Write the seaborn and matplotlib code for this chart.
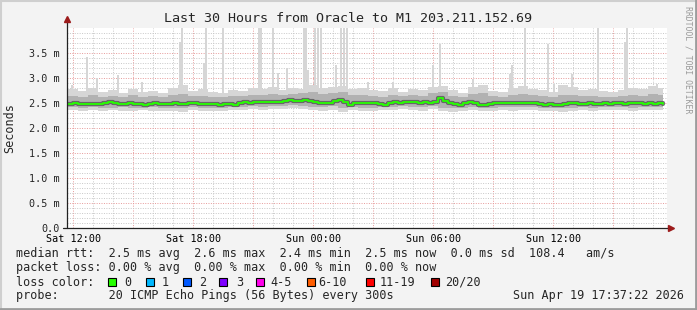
import numpy as np
import pandas as pd
import matplotlib
matplotlib.use("Agg")
import matplotlib.pyplot as plt
import seaborn as sns
from matplotlib.lines import Line2D
from matplotlib.patches import Rectangle

# ---------------- data (hours since Sat 00:00, values in ms) ----------------
x_start, x_end = 11.685, 41.685
median_first, median_step = 11.75, 0.25
median_ms = [
    2.48, 2.49, 2.47, 2.48, 2.47, 2.48, 2.47, 2.50, 2.53, 2.49,
    2.48, 2.47, 2.49, 2.48, 2.48, 2.46, 2.48, 2.49, 2.48, 2.47,
    2.48, 2.49, 2.48, 2.48, 2.49, 2.50, 2.48, 2.47, 2.47, 2.48,
    2.46, 2.48, 2.47, 2.46, 2.49, 2.52, 2.51, 2.52, 2.53, 2.52,
    2.53, 2.52, 2.53, 2.54, 2.56, 2.55, 2.54, 2.56, 2.55, 2.52,
    2.49, 2.49, 2.51, 2.54, 2.57, 2.53, 2.46, 2.50, 2.51, 2.49,
    2.49, 2.50, 2.47, 2.45, 2.49, 2.52, 2.51, 2.52, 2.53, 2.52,
    2.51, 2.52, 2.51, 2.52, 2.60, 2.55, 2.50, 2.47, 2.46, 2.50,
    2.52, 2.50, 2.46, 2.45, 2.47, 2.50, 2.50, 2.49, 2.50, 2.51,
    2.49, 2.50, 2.50, 2.49, 2.47, 2.46, 2.47, 2.46, 2.46, 2.48,
    2.49, 2.49, 2.47, 2.48, 2.49, 2.48, 2.48, 2.49, 2.47, 2.49,
    2.50, 2.48, 2.50, 2.51, 2.49, 2.48, 2.49, 2.47, 2.49, 2.48,
]
smoke_first, smoke_step = 11.75, 0.5
smoke_hi_outer = [
    2.78, 2.74, 2.80, 2.72, 2.76, 2.70, 2.78, 2.72, 2.74, 2.70,
    2.80, 2.86, 2.74, 2.78, 2.72, 2.70, 2.76, 2.74, 2.80, 2.78,
    2.82, 2.76, 2.80, 2.78, 2.86, 2.80, 2.82, 2.84, 2.78, 2.80,
    2.76, 2.74, 2.80, 2.72, 2.78, 2.76, 2.82, 2.84, 2.76, 2.70,
    2.82, 2.86, 2.74, 2.72, 2.80, 2.84, 2.78, 2.76, 2.72, 2.86,
    2.82, 2.76, 2.78, 2.74, 2.72, 2.76, 2.80, 2.78, 2.84, 2.80,
]
smoke_hi_mid = [
    2.64, 2.62, 2.66, 2.63, 2.65, 2.62, 2.66, 2.63, 2.64, 2.62,
    2.66, 2.68, 2.64, 2.65, 2.62, 2.63, 2.65, 2.64, 2.67, 2.66,
    2.68, 2.66, 2.68, 2.70, 2.72, 2.68, 2.70, 2.72, 2.66, 2.67,
    2.64, 2.63, 2.66, 2.64, 2.66, 2.65, 2.70, 2.72, 2.65, 2.62,
    2.68, 2.70, 2.64, 2.62, 2.66, 2.68, 2.66, 2.64, 2.62, 2.66,
    2.66, 2.64, 2.65, 2.63, 2.62, 2.64, 2.66, 2.65, 2.68, 2.66,
]
smoke_lo_mid = [
    2.42, 2.41, 2.42, 2.40, 2.41, 2.42, 2.40, 2.41, 2.42, 2.40,
    2.41, 2.40, 2.42, 2.41, 2.40, 2.41, 2.42, 2.43, 2.44, 2.43,
    2.44, 2.45, 2.46, 2.45, 2.43, 2.42, 2.44, 2.40, 2.42, 2.41,
    2.40, 2.42, 2.43, 2.44, 2.43, 2.42, 2.45, 2.41, 2.40, 2.41,
    2.42, 2.40, 2.41, 2.42, 2.42, 2.43, 2.42, 2.41, 2.40, 2.40,
    2.41, 2.42, 2.41, 2.42, 2.43, 2.42, 2.41, 2.42, 2.43, 2.42,
]
smoke_lo_outer = [
    2.36, 2.35, 2.37, 2.34, 2.36, 2.35, 2.34, 2.36, 2.35, 2.34,
    2.35, 2.33, 2.36, 2.35, 2.34, 2.35, 2.36, 2.37, 2.38, 2.37,
    2.38, 2.39, 2.40, 2.38, 2.36, 2.35, 2.37, 2.32, 2.36, 2.35,
    2.34, 2.36, 2.37, 2.38, 2.36, 2.35, 2.38, 2.34, 2.33, 2.35,
    2.36, 2.34, 2.35, 2.36, 2.35, 2.37, 2.36, 2.35, 2.34, 2.33,
    2.35, 2.36, 2.35, 2.36, 2.37, 2.36, 2.35, 2.36, 2.37, 2.36,
]
spike_hours = [11.94, 12.69, 13.19, 14.24, 15.44, 17.34, 17.44, 18.54, 18.64,
               19.49, 21.29, 21.39, 21.99, 22.24, 22.69, 23.54, 23.64, 23.74,
               24.09, 24.24, 24.39, 25.14, 25.39, 25.54, 25.69, 26.74, 27.99,
               29.99, 30.34, 31.99, 33.84, 33.94, 34.59, 35.74, 36.04, 36.94,
               38.24, 39.59, 39.69, 41.19]
spike_tops = [2.86, 3.42, 3.00, 3.06, 2.92, 3.72, 4.00, 3.30, 4.00,
              4.00, 4.00, 4.00, 4.00, 3.10, 3.20, 4.00, 4.00, 3.16,
              4.00, 4.00, 4.00, 3.26, 4.00, 4.00, 4.00, 2.92, 2.92,
              3.26, 3.68, 2.98, 3.08, 3.26, 4.00, 3.68, 2.88, 3.08,
              4.00, 3.72, 4.00, 2.88]

xtick_hours = [12, 18, 24, 30, 36]
xtick_labels = ["Sat 12:00", "Sat 18:00", "Sun 00:00", "Sun 06:00", "Sun 12:00"]
ytick_vals = [0.0, 0.5, 1.0, 1.5, 2.0, 2.5, 3.0, 3.5]
ytick_labels = ["0.0", "0.5 m", "1.0 m", "1.5 m", "2.0 m", "2.5 m", "3.0 m", "3.5 m"]

title = "Last 30 Hours from Oracle to M1 203.211.152.69"
legend_rtt = "median rtt:  2.5 ms avg  2.6 ms max  2.4 ms min  2.5 ms now  0.0 ms sd  108.4   am/s"
legend_loss = "packet loss: 0.00 % avg  0.00 % max  0.00 % min  0.00 % now"
loss_labels = ["0", "1", "2", "3", "4-5", "6-10", "11-19", "20/20"]
loss_colors = ["#26ff00", "#00b8ff", "#0059ff", "#7e00ff", "#ff00ea", "#ff5e00", "#ff0000", "#a10000"]
probe_text = "probe:       20 ICMP Echo Pings (56 Bytes) every 300s"
date_text = "Sun Apr 19 17:37:22 2026"

# ---------------- styling ----------------
sns.set_style("white")
plt.rcParams["font.family"] = ["DejaVu Sans Mono"]
W, H = 697, 310
fig = plt.figure(figsize=(W / 100, H / 100), dpi=100, facecolor="#f3f3f3")


def fx(x):
    return x / W


def fy(y):
    return 1 - y / H


ax = fig.add_axes([fx(67), fy(228), 600 / W, 200 / H])
ax.set_facecolor("white")

med_df = pd.DataFrame({
    "hour": median_first + median_step * np.arange(len(median_ms)),
    "rtt": median_ms,
})
n_s = len(smoke_hi_outer)
smoke_x = np.append(smoke_first + smoke_step * np.arange(n_s), med_df["hour"].iloc[-1])


def ext(v):
    return np.append(v, v[-1])


# spikes (light smoke reaching high)
ax.bar(spike_hours, np.array(spike_tops) - 2.5, bottom=2.5, width=0.1,
       color="#d6d6d6", align="center", zorder=1, linewidth=0)
ax.fill_between(smoke_x, ext(smoke_lo_outer), ext(smoke_hi_outer), step="post",
                color="#d6d6d6", lw=0, zorder=2)
ax.fill_between(smoke_x, ext(smoke_lo_mid), ext(smoke_hi_mid), step="post",
                color="#b2b2b2", lw=0, zorder=3)
sns.lineplot(data=med_df, x="hour", y="rtt", ax=ax, color="#5a5a5a", lw=3.0,
             alpha=0.85, drawstyle="steps-post", zorder=4, estimator=None)
sns.lineplot(data=med_df, x="hour", y="rtt", ax=ax, color="#26ff00", lw=1.3,
             drawstyle="steps-post", zorder=5, estimator=None)

ax.set_xlim(x_start, x_end)
ax.set_ylim(0, 4.0)

# grid
grid_ls = (0, (1, 1.5))
for h in range(13, 42):
    if h % 3:
        ax.axvline(h, color="#c8c8c8", lw=0.7, ls=grid_ls, zorder=0)
for h in range(12, 42, 3):
    ax.axvline(h, color="#e79a9a", lw=0.7, ls=grid_ls, zorder=0)
for k in range(1, 41):
    if k % 5:
        ax.axhline(k / 10, color="#c8c8c8", lw=0.7, ls=grid_ls, zorder=0)
for v in ytick_vals[1:]:
    ax.axhline(v, color="#e79a9a", lw=0.7, ls=grid_ls, zorder=0)

major_x = list(range(12, 42, 3))
major_lab = [xtick_labels[xtick_hours.index(h)] if h in xtick_hours else "" for h in major_x]
ax.set_xticks(major_x, major_lab)
ax.set_yticks(ytick_vals, ytick_labels)
ax.tick_params(axis="x", length=2.5, width=0.8, pad=2, labelsize=7.3, colors="black")
ax.tick_params(axis="y", length=0, pad=5, labelsize=7.3)
ax.set_xlabel("")
ax.set_ylabel("")
for s in ax.spines.values():
    s.set_visible(False)

# axis lines with arrows
arrow_c = "#9c1b1b"
fig.add_artist(Line2D([fx(67), fx(67)], [fy(228), fy(21)], color="#222222", lw=0.9))
fig.add_artist(Line2D([fx(63), fx(669)], [fy(228), fy(228)], color="#222222", lw=0.9))
fig.add_artist(Line2D([fx(67)], [fy(19)], marker="^", ms=5, color=arrow_c, lw=0))
fig.add_artist(Line2D([fx(671)], [fy(228)], marker=">", ms=5, color=arrow_c, lw=0))

# frame
fig.add_artist(Line2D([fx(0.5), fx(696)], [fy(0.5), fy(0.5)], color="#cfcfcf", lw=1.5))
fig.add_artist(Line2D([fx(0.5), fx(0.5)], [fy(0.5), fy(309)], color="#cfcfcf", lw=1.5))
fig.add_artist(Line2D([fx(696), fx(696)], [fy(0), fy(310)], color="#9c9c9c", lw=2))
fig.add_artist(Line2D([fx(0), fx(697)], [fy(309), fy(309)], color="#9c9c9c", lw=2))

# texts
fig.text(fx(348.5), fy(18), title, ha="center", va="center", fontsize=9.6)
fig.text(fx(10), fy(128), "Seconds", rotation=90, ha="center", va="center", fontsize=8.5)
fig.text(fx(688), fy(60), "RRDTOOL / TOBI OETIKER", rotation=-90, ha="center",
         va="center", fontsize=5.9, color="#9a9a9a")

fig.text(fx(16), fy(254), legend_rtt, ha="left", va="center", fontsize=8.5)
fig.text(fx(16), fy(268), legend_loss, ha="left", va="center", fontsize=8.5)
fig.text(fx(16), fy(282), "loss color:", ha="left", va="center", fontsize=8.5)
box_x = [108, 146, 183, 219, 256, 307, 366, 431]
lab_x = [124, 162, 199, 236, 270, 318, 380, 445]
for bx, lx, lab, col in zip(box_x, lab_x, loss_labels, loss_colors):
    fig.add_artist(Rectangle((fx(bx), fy(286)), 8 / W, 8 / H, facecolor=col,
                             edgecolor="black", lw=0.8, transform=fig.transFigure))
    fig.text(fx(lx), fy(282), lab, ha="left", va="center", fontsize=8.5)
fig.text(fx(16), fy(296), probe_text, ha="left", va="center", fontsize=8.5)
fig.text(fx(513), fy(296), date_text, ha="left", va="center", fontsize=8.5)

fig.savefig("out.png", dpi=100, facecolor=fig.get_facecolor())
